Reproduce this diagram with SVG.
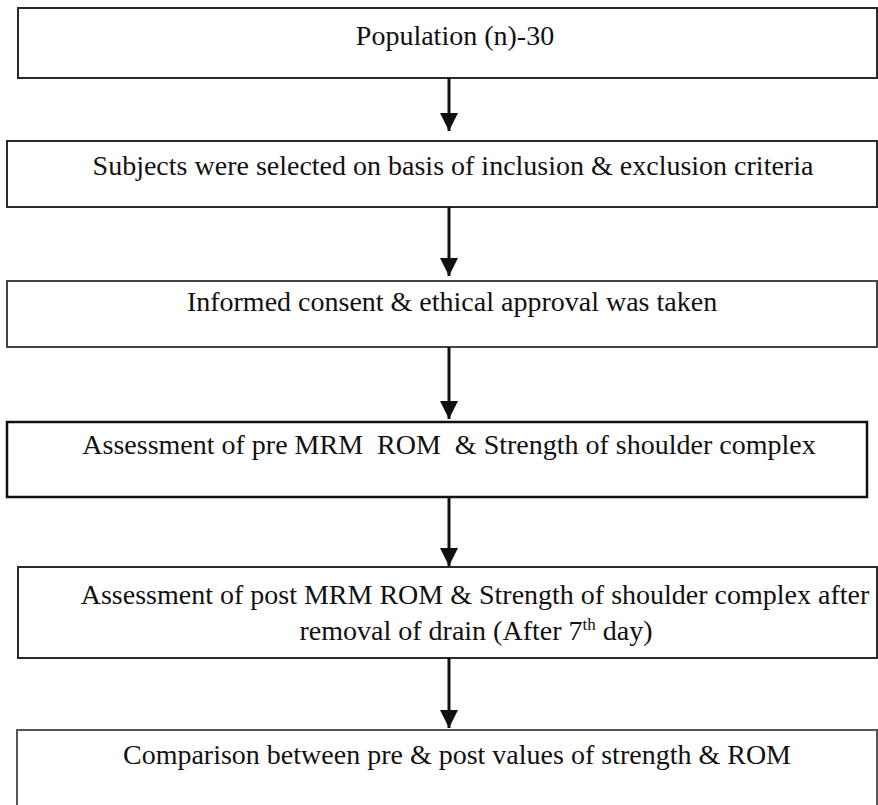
<svg xmlns="http://www.w3.org/2000/svg" width="878" height="805" viewBox="0 0 878 805">
<defs>
<style>
.box{fill:#fff;stroke:#2a2a2a;stroke-width:2}
.lbl{font-family:"Liberation Serif","Times New Roman",serif;font-size:28px;fill:#111;text-anchor:middle;white-space:pre}
.conn line{stroke:#111;stroke-width:3}
</style>
<marker id="ah" viewBox="0 0 10 10" refX="10" refY="5" markerUnits="userSpaceOnUse" markerWidth="18" markerHeight="18" orient="auto">
<path d="M0,0 L10,5 L0,10 Z" fill="#111"/>
</marker>
</defs>
<rect width="878" height="805" fill="#fff"/>
<g id="n1">
<rect class="box" x="18" y="8" width="859" height="70"/>
<text class="lbl" x="455" y="45">Population (n)-30</text>
</g>
<g id="n2">
<rect class="box" x="7" y="141" width="870" height="66"/>
<text class="lbl" x="453" y="175">Subjects were selected on basis of inclusion &amp; exclusion criteria</text>
</g>
<g id="n3">
<rect class="box" x="7" y="281" width="870" height="66" style="stroke:#444"/>
<text class="lbl" x="452" y="311">Informed consent &amp; ethical approval was taken</text>
</g>
<g id="n4">
<rect class="box" x="7" y="422" width="860" height="75" style="stroke:#111;stroke-width:2.5"/>
<text class="lbl" x="449" y="454">Assessment of pre MRM  ROM  &amp; Strength of shoulder complex</text>
</g>
<g id="n5">
<rect class="box" x="18" y="567" width="859" height="91"/>
<text class="lbl" x="475" y="604">Assessment of post MRM ROM &amp; Strength of shoulder complex after</text>
<text class="lbl" x="476" y="640">removal of drain (After 7<tspan font-size="17" dy="-10">th</tspan><tspan dy="10"> day)</tspan></text>
</g>
<g id="n6">
<rect class="box" x="17" y="730" width="860" height="90" style="stroke:#555"/>
<text class="lbl" x="457" y="764">Comparison between pre &amp; post values of strength &amp; ROM</text>
</g>
<g id="connectors" class="conn">
<line x1="449" y1="78" x2="449" y2="131" marker-end="url(#ah)"/>
<line x1="449" y1="207" x2="449" y2="276" marker-end="url(#ah)"/>
<line x1="449" y1="347" x2="449" y2="419" marker-end="url(#ah)"/>
<line x1="449" y1="497" x2="449" y2="566" marker-end="url(#ah)"/>
<line x1="449" y1="658" x2="449" y2="728" marker-end="url(#ah)"/>
</g>
</svg>
